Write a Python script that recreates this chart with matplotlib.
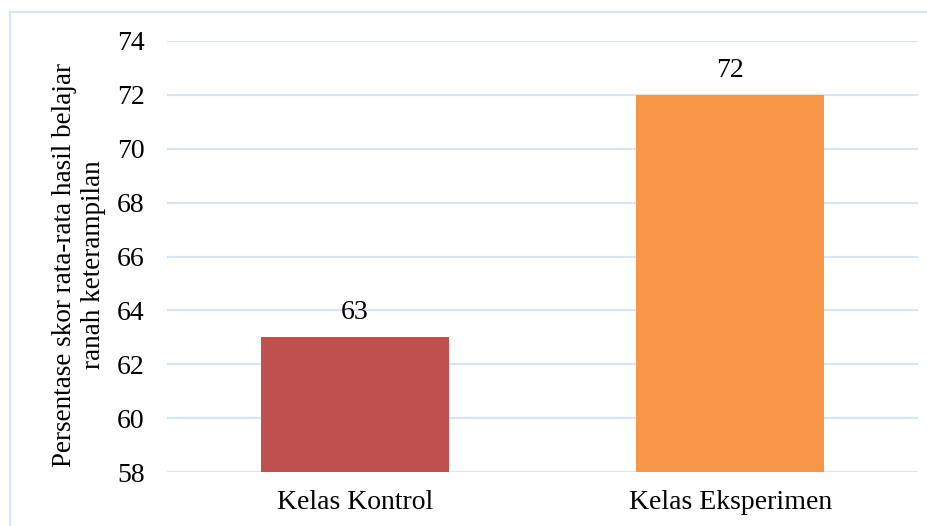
import matplotlib as mpl
import matplotlib.pyplot as plt
from matplotlib.patches import Rectangle

mpl.use('Agg')

kelas = ["Kelas Kontrol", "Kelas Eksperimen"]
skor = [63, 72]
warna = ["#C0504D", "#F79646"]
yticks = [58, 60, 62, 64, 66, 68, 70, 72, 74]

plt.rcParams['font.family'] = ['Liberation Serif', 'DejaVu Serif']

W, H = 928, 526
fig = plt.figure(figsize=(W / 100, H / 100), dpi=100)
ax = fig.add_axes([167 / W, 1 - 472 / H, (918 - 167) / W, (472 - 41) / H])

x = range(len(kelas))
ax.bar(x, [s - 58 for s in skor], bottom=58, width=0.5, color=warna, zorder=3)
for i, s in zip(x, skor):
    ax.text(i, s + 0.45, str(s), ha='center', va='bottom', fontsize=20)

ax.set_xlim(-0.5, 1.5)
ax.set_ylim(58, 74)
ax.set_yticks(yticks)
ax.set_xticks(list(x))
ax.set_xticklabels(kelas)
ax.tick_params(axis='both', length=0, labelsize=20)
ax.tick_params(axis='y', pad=16)
ax.tick_params(axis='x', pad=13)
ax.grid(axis='y', color='#D9E4F4', linewidth=1.6, zorder=0)
for sp in ax.spines.values():
    sp.set_visible(False)

fig.text(79 / W, 1 - 265 / H, "Persentase skor rata-rata hasil belajar\nranah keterampilan",
         rotation=90, ha='center', va='center', fontsize=19.5, linespacing=1.2)

# chart frame (only left and top edges visible in the crop)
fig.patches.append(Rectangle((10.5 / W, -0.1), 1.2, 1.1 - 12.5 / H,
                             transform=fig.transFigure, fill=False,
                             edgecolor='#D6E3F3', linewidth=1.5))

plt.savefig("out.png", dpi=100)
